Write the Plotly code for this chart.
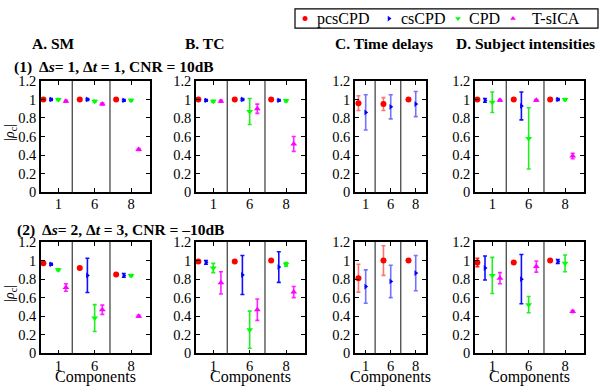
import plotly.graph_objects as go

# ---------------- data ----------------
COMPONENT_LABELS = ["1", "6", "8"]
METHODS = ["pcsCPD", "csCPD", "CPD", "T-sICA"]
Y_TICKS = [0, 0.2, 0.4, 0.6, 0.8, 1.0, 1.2]
Y_TICKTEXT = ["0", "0.2", "0.4", "0.6", "0.8", "1", "1.2"]

# Row 1: ds=1, dt=1, CNR=10dB   (lists ordered pcsCPD, csCPD, CPD, T-sICA)
SM1_MEAN = [[1.00, 1.00, 1.00], [1.00, 1.00, 0.99], [1.00, 0.98, 0.99], [0.98, 0.95, 0.46]]
SM1_ERR = [[0.005, 0.005, 0.005], [0.01, 0.01, 0.01], [0.01, 0.01, 0.01], [0.01, 0.01, 0.01]]
TC1_MEAN = [[1.00, 1.00, 1.00], [0.99, 1.00, 0.99], [0.98, 0.87, 0.985], [0.98, 0.90, 0.52]]
TC1_ERR = [[0.005, 0.005, 0.005], [0.01, 0.01, 0.01], [0.01, 0.14, 0.01], [0.01, 0.05, 0.08]]
TD1_MEAN = [[0.96, 0.95, 1.00], [0.86, 0.92, 0.95]]
TD1_ERR = [[0.08, 0.07, 0.0], [0.19, 0.13, 0.135]]
SI1_MEAN = [[1.00, 1.00, 1.00], [0.99, 0.93, 1.00], [0.97, 0.58, 1.00], [0.99, 0.99, 0.39]]
SI1_ERR = [[0.005, 0.005, 0.005], [0.02, 0.15, 0.01], [0.11, 0.33, 0.01], [0.01, 0.01, 0.03]]

# Row 2: ds=2, dt=3, CNR=-10dB
SM2_MEAN = [[0.97, 0.92, 0.85], [0.96, 0.84, 0.84], [0.90, 0.38, 0.84], [0.71, 0.47, 0.40]]
SM2_ERR = [[0.01, 0.01, 0.01], [0.01, 0.185, 0.02], [0.01, 0.145, 0.01], [0.04, 0.05, 0.01]]
TC2_MEAN = [[0.99, 0.99, 1.00], [0.98, 0.845, 0.93], [0.92, 0.255, 0.96], [0.76, 0.47, 0.66]]
TC2_ERR = [[0.005, 0.005, 0.005], [0.02, 0.21, 0.165], [0.05, 0.20, 0.02], [0.12, 0.115, 0.06]]
TD2_MEAN = [[0.81, 1.00, 1.00], [0.72, 0.775, 0.865]]
TD2_ERR = [[0.15, 0.16, 0.0], [0.18, 0.175, 0.19]]
SI2_MEAN = [[0.98, 0.98, 1.00], [0.92, 0.80, 0.99], [0.84, 0.525, 0.97], [0.81, 0.935, 0.45]]
SI2_ERR = [[0.045, 0.005, 0.005], [0.13, 0.265, 0.02], [0.195, 0.087, 0.09], [0.06, 0.06, 0.01]]

# ---------------- style / layout ----------------
W, H = 600, 392
FONT = "Liberation Serif, Times New Roman, serif"
COLORS = ["#ff0000", "#0000ff", "#00ff00", "#ff00ff"]
ERR_COLORS = ["#ff2020", "#1010ff", "#22ee22", "#ff22ff"]
ERR_COLORS_TD = ["rgba(255,40,40,0.65)", "rgba(40,40,255,0.65)"]
SYMBOLS = ["circle", "triangle-right", "triangle-down", "triangle-up"]
SIZES = [6, 5, 6, 6]

COLS_PX = [(41, 150), (196, 305), (355, 426), (475, 584)]
ROWS_PX = [(76, 192), (244, 360)]

FOUR = dict(offsets=[-0.41, -0.2, 0.0, 0.21], xrange=[0.525, 3.52], dividers=[1.385, 2.42])
TWO = dict(offsets=[-0.29, 0.0], xrange=[0.572, 3.41], dividers=[1.377, 2.40])

panels = [
    (0, 0, SM1_MEAN, SM1_ERR), (0, 1, TC1_MEAN, TC1_ERR), (0, 2, TD1_MEAN, TD1_ERR), (0, 3, SI1_MEAN, SI1_ERR),
    (1, 0, SM2_MEAN, SM2_ERR), (1, 1, TC2_MEAN, TC2_ERR), (1, 2, TD2_MEAN, TD2_ERR), (1, 3, SI2_MEAN, SI2_ERR),
]

fig = go.Figure()
shapes = []
annotations = []
layout = {}


def suffix(k):
    return "" if k == 1 else str(k)


for k, (r, c, means, errs) in enumerate(panels, start=1):
    cfg = TWO if c == 2 else FOUR
    xa, ya = "x" + suffix(k), "y" + suffix(k)
    for s, (m, e) in enumerate(zip(means, errs)):
        xs = [g + 1 + cfg["offsets"][s] for g in range(len(m))]
        ecol = ERR_COLORS_TD[s] if c == 2 else ERR_COLORS[s]
        fig.add_trace(go.Scatter(
            x=xs, y=m, mode="markers", xaxis=xa, yaxis=ya, showlegend=False,
            marker=dict(color=COLORS[s], symbol=SYMBOLS[s], size=SIZES[s], line=dict(width=0)),
            error_y=dict(type="data", array=e, visible=True, color=ecol, thickness=1.6, width=2),
            cliponaxis=False,
        ))
    x0, x1 = COLS_PX[c]
    y0, y1 = ROWS_PX[r]
    layout["xaxis" + suffix(k)] = dict(
        domain=[x0 / W, x1 / W], anchor=ya, range=cfg["xrange"],
        tickmode="array", tickvals=[1, 2, 3], ticktext=COMPONENT_LABELS,
        ticks="inside", ticklen=4, tickcolor="black", tickwidth=1,
        showline=True, linecolor="black", linewidth=1.6, mirror="ticks",
        showgrid=False, zeroline=False, ticklabelstandoff=-2,
        tickfont=dict(family=FONT, size=14.5, color="black"),
    )
    layout["yaxis" + suffix(k)] = dict(
        domain=[1 - y1 / H, 1 - y0 / H], anchor=xa, range=[0, 1.2],
        tickmode="array", tickvals=Y_TICKS, ticktext=Y_TICKTEXT,
        ticks="inside", ticklen=4, tickcolor="black", tickwidth=1,
        showline=True, linecolor="black", linewidth=1.6, mirror="ticks",
        showgrid=False, zeroline=False,
        tickfont=dict(family=FONT, size=14.5, color="black"),
    )
    for d in cfg["dividers"]:
        shapes.append(dict(type="line", xref=xa, yref=f"{ya} domain", x0=d, x1=d, y0=0, y1=1,
                           line=dict(color="#555555", width=1.4)))


# ---------------- texts ----------------
def ann(text, x, y, size, xanchor="center", yanchor="middle", angle=0):
    annotations.append(dict(text=text, x=x / W, y=1 - y / H, xref="paper", yref="paper",
                            xanchor=xanchor, yanchor=yanchor, showarrow=False, textangle=angle,
                            font=dict(family=FONT, size=size, color="black")))


ann("<b>A. SM</b>", 53, 37, 15.5)
ann("<b>B. TC</b>", 204, 37, 15.5)
ann("<b>C. Time delays</b>", 384, 37, 15.5)
ann("<b>D. Subject intensities</b>", 525, 37, 15.5)
ann("<b>(1)  Δ<i>s</i>= 1, Δ<i>t</i> = 1, CNR = 10dB</b>", 12, 62, 15.5, xanchor="left")
ann("<b>(2)  Δ<i>s</i>= 2, Δ<i>t</i> = 3, CNR = –10dB</b>", 15, 231, 15.5, xanchor="left")
ann("|<i>ρ</i><sub>c</sub>|", 11, 130, 14, angle=-90)
ann("|<i>ρ</i><sub>c</sub>|", 11, 298, 14, angle=-90)
for (x0, x1) in COLS_PX:
    ann("Components", (x0 + x1) / 2, 385, 16)

# ---------------- legend (drawn manually) ----------------
LEG_X0, LEG_X1, LEG_Y0, LEG_Y1 = 295, 598, 1, 21
LEG_MARK_X = [305, 389, 458, 513]
LEG_TEXT_X = [315, 399, 467, 530]
for s, name in enumerate(METHODS):
    fig.add_trace(go.Scatter(
        x=[LEG_MARK_X[s]], y=[0.5], mode="markers", xaxis="x9", yaxis="y9", showlegend=False,
        marker=dict(color=COLORS[s], symbol=SYMBOLS[s], size=5, line=dict(width=0)), hoverinfo="skip"))
    annotations.append(dict(text=name, x=LEG_TEXT_X[s], y=0.5, xref="x9", yref="y9",
                            xanchor="left", yanchor="middle", showarrow=False,
                            font=dict(family=FONT, size=16, color="black")))
layout["xaxis9"] = dict(domain=[LEG_X0 / W, LEG_X1 / W], range=[LEG_X0, LEG_X1], anchor="y9",
                        visible=False, fixedrange=True)
layout["yaxis9"] = dict(domain=[1 - LEG_Y1 / H, 1 - LEG_Y0 / H], range=[0, 1], anchor="x9",
                        visible=False, fixedrange=True)
shapes.append(dict(type="rect", xref="paper", yref="paper", x0=LEG_X0 / W, x1=LEG_X1 / W,
                   y0=1 - LEG_Y1 / H, y1=1 - LEG_Y0 / H, line=dict(color="black", width=1.2)))

fig.update_layout(
    width=W, height=H, margin=dict(l=0, r=0, t=0, b=0),
    paper_bgcolor="white", plot_bgcolor="white", showlegend=False,
    shapes=shapes, annotations=annotations, **layout,
)

fig.write_html(
    "out.html",
    config={"displayModeBar": False},
    post_script="document.body.style.margin='0';document.body.style.overflow='hidden';",
)
